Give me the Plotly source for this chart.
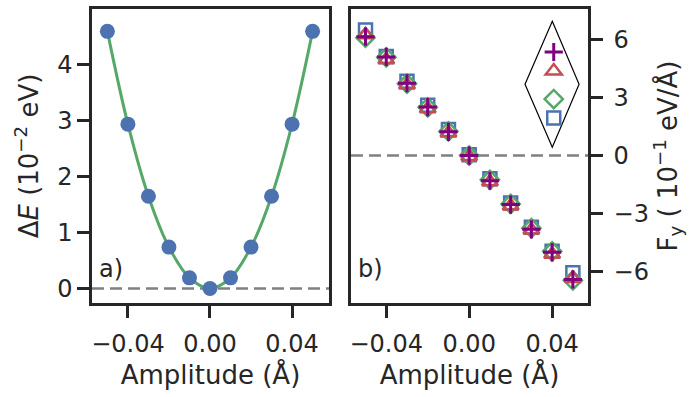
import plotly.graph_objects as go

# ---------------- data ----------------
amplitude = [-0.05, -0.04, -0.03, -0.02, -0.01, 0.0, 0.01, 0.02, 0.03, 0.04, 0.05]
delta_e = [4.60, 2.94, 1.65, 0.74, 0.19, 0.0, 0.19, 0.74, 1.65, 2.94, 4.60]

force_plus = [6.15, 5.10, 3.74, 2.51, 1.23, 0.00, -1.30, -2.53, -3.81, -5.00, -6.40]
force_triangle = [6.25, 4.95, 3.65, 2.42, 1.17, -0.05, -1.35, -2.60, -3.85, -5.10, -6.35]
force_diamond = [6.10, 5.08, 3.72, 2.50, 1.25, 0.00, -1.25, -2.50, -3.75, -4.95, -6.45]
force_square = [6.50, 5.12, 3.85, 2.60, 1.35, 0.05, -1.20, -2.45, -3.70, -4.95, -6.05]

x_tickvals = [-0.04, 0.0, 0.04]
x_ticktext = ["\u22120.04", "0.00", "0.04"]
e_tickvals = [0, 1, 2, 3, 4]
f_tickvals = [-6, -3, 0, 3, 6]
f_ticktext = ["\u22126", "\u22123", "0", "3", "6"]

# ---------------- style ----------------
BLUE = "#4C72B0"
GREEN = "#55A868"
RED = "#C44E52"
PURPLE = "#800080"
DARK = "#262626"
FONT = "DejaVu Sans"
TICK_SIZE = 24
TITLE_SIZE = 26

fig = go.Figure()

# left panel
fig.add_trace(go.Scatter(
    x=amplitude, y=delta_e, mode="lines+markers",
    line=dict(color=GREEN, width=3, shape="spline", smoothing=1.0),
    marker=dict(color=BLUE, size=15),
    xaxis="x", yaxis="y", showlegend=False))

# right panel (drawing order: square, diamond, triangle, plus)
series = [
    (force_square, "square-open", BLUE, 13, 4, "g2"),
    (force_diamond, "diamond-open", GREEN, 14, 3, "g2"),
    (force_triangle, "triangle-up-open", RED, 14, 2, "g1"),
    (force_plus, "cross-thin-open", PURPLE, 13, 1, "g1"),
]
for vals, sym, col, sz, rank, grp in series:
    fig.add_trace(go.Scatter(
        x=amplitude, y=vals, mode="markers", name="",
        marker=dict(symbol=sym, size=sz, color=col,
                    line=dict(color=col, width=3 if sym.startswith("cross") else 2.5)),
        xaxis="x2", yaxis="y2", legendrank=rank, legendgroup=grp, showlegend=True))

axis_common = dict(
    showline=True, mirror=True, linecolor=DARK, linewidth=2.5,
    ticks="outside", ticklen=12, tickwidth=2.5, tickcolor=DARK,
    showgrid=False, zeroline=False,
    tickfont=dict(family=FONT, size=TICK_SIZE, color=DARK),
)
title_font = dict(size=TITLE_SIZE, family=FONT, color=DARK)

L0, L1 = 0.0, 237 / 496
R0, R1 = 259 / 496, 1.0

fig.update_layout(
    width=690, height=397,
    margin=dict(l=92, r=102, t=6, b=94),
    paper_bgcolor="white", plot_bgcolor="white",
    font=dict(family=FONT, color=DARK),
    xaxis=dict(domain=[L0, L1], range=[-0.0575, 0.058],
               tickvals=x_tickvals, ticktext=x_ticktext, ticklabelstandoff=5,
               title=dict(text="Amplitude (\u00c5)", font=title_font, standoff=10),
               **axis_common),
    yaxis=dict(range=[-0.26, 5.0], tickvals=e_tickvals,
               title=dict(text="\u0394<i>E</i> (10<sup>\u22122</sup> eV)", font=title_font, standoff=12),
               **axis_common),
    xaxis2=dict(domain=[R0, R1], range=[-0.057, 0.0573], anchor="y2",
                tickvals=x_tickvals, ticktext=x_ticktext, ticklabelstandoff=5,
                title=dict(text="Amplitude (\u00c5)", font=title_font, standoff=10),
                **axis_common),
    yaxis2=dict(range=[-7.62, 7.58], anchor="x2", side="right",
                tickvals=f_tickvals, ticktext=f_ticktext, ticklabelstandoff=6,
                title=dict(text="F<sub>y</sub> ( 10<sup>\u22121</sup> eV/\u00c5)", font=title_font, standoff=3),
                **axis_common),
    legend=dict(x=0.8906, xanchor="left", y=0.903, yanchor="top",
                bgcolor="rgba(0,0,0,0)", borderwidth=0,
                traceorder="grouped", tracegroupgap=9,
                font=dict(size=9), itemsizing="trace", itemwidth=30),
)

# zero reference lines
for xr, yr in [("x domain", "y"), ("x2 domain", "y2")]:
    fig.add_shape(type="line", xref=xr, yref=yr, x0=0, x1=1, y0=0, y1=0,
                  line=dict(color="#808080", width=2.5, dash="12px,6px"), layer="below")

# rhombus around legend
fig.add_shape(type="path", xref="paper", yref="paper",
              path="M 0.928 0.9586 L 0.982 0.744 L 0.928 0.5296 L 0.873 0.744 Z",
              line=dict(color="black", width=1.2))

# panel labels
fig.add_annotation(text="a)", xref="x domain", yref="y domain", x=0.02, y=0.114,
                   xanchor="left", yanchor="middle", showarrow=False,
                   font=dict(size=TICK_SIZE, family=FONT, color=DARK))
fig.add_annotation(text="b)", xref="x2 domain", yref="y2 domain", x=0.02, y=0.114,
                   xanchor="left", yanchor="middle", showarrow=False,
                   font=dict(size=TICK_SIZE, family=FONT, color=DARK))

fig.write_html("out.html")
